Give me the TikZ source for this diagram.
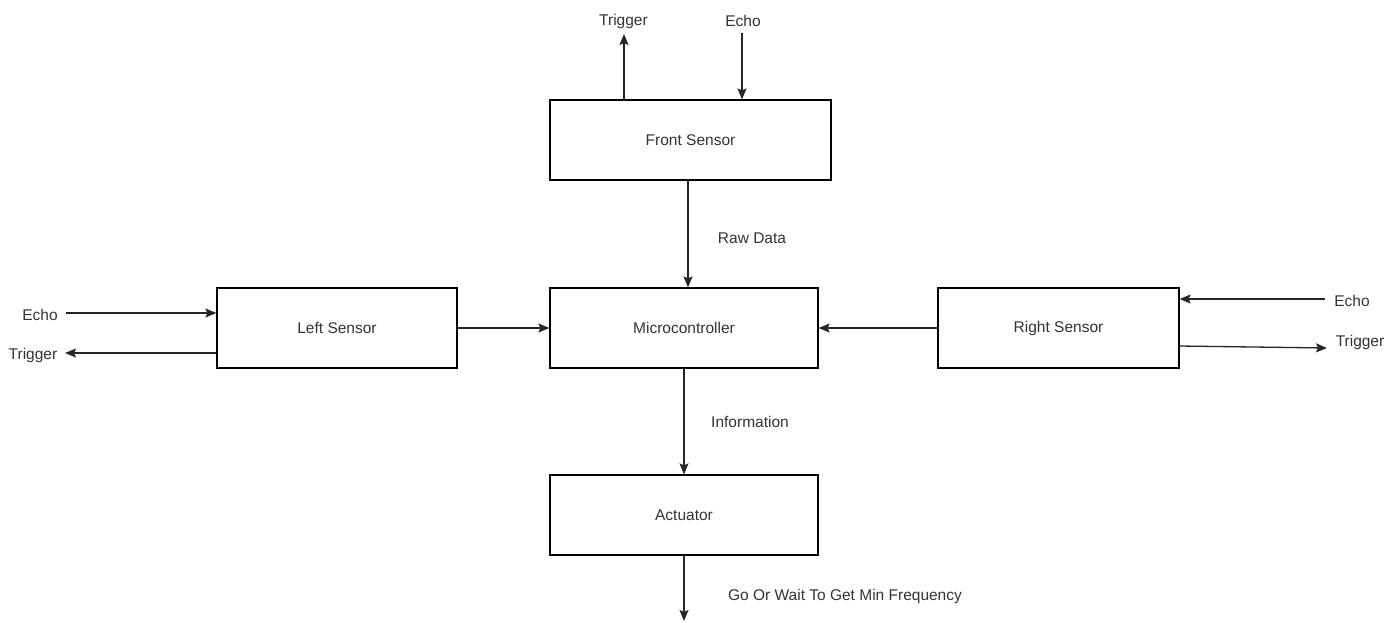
\documentclass[tikz,border=0pt]{standalone}
\usepackage{fontspec}
\setmainfont{Liberation Sans}
\usetikzlibrary{arrows.meta}
\begin{document}
\begin{tikzpicture}[x=1pt,y=-1pt,
  blk/.style={draw=black,line width=1.2pt,minimum width=#1,minimum height=80pt,inner sep=0pt,font=\fontsize{15.5}{18}\selectfont,text=black!80},
  blk/.default=268pt,
  lbl/.style={inner sep=0pt,font=\fontsize{15.5}{18}\selectfont,text=black!80},
  conn/.style={draw=black!85,line width=1.3pt,-{Stealth[length=11pt,width=9pt,inset=2pt]}}]
\useasboundingbox (0,0) rectangle (1400,622);
% boxes
\node[blk=281pt] (front) at (690.5,140) {Front Sensor};
\node[blk=240pt] (left) at (337,328) {Left Sensor};
\node[blk] (micro) at (684,328) {Microcontroller};
\node[blk=241pt] (right) at (1058.5,328) {Right Sensor};
\node[blk] (act) at (684,515) {Actuator};
% front sensor I/O
\coordinate (ftrig) at (624,34);
\coordinate (fecho) at (742,33);
\node[lbl] (ftrigl) at (623.5,21) {Trigger};
\node[lbl] (fechol) at (743,21) {Echo};
\draw[conn] (front.north -| ftrig) -- (ftrig);
\draw[conn] (fecho) -- (front.north -| fecho);
% front -> micro
\coordinate (fm) at (688,0);
\draw[conn] (front.south -| fm) -- (micro.north -| fm);
\node[lbl] (raw) at (752,238) {Raw Data};
% left sensor I/O
\coordinate (lecho) at (66,313);
\coordinate (ltrig) at (65,353);
\node[lbl] (lechol) at (40,315) {Echo};
\node[lbl] (ltrigl) at (33,355) {Trigger};
\draw[conn] (lecho) -- (left.west |- lecho);
\draw[conn] (left.west |- ltrig) -- (ltrig);
\draw[conn] (left) -- (micro);
\draw[conn] (right) -- (micro);
% right sensor I/O
\coordinate (recho) at (1325,299);
\coordinate (rtrig) at (1327,348);
\node[lbl] (rechol) at (1352,301) {Echo};
\node[lbl] (rtrigl) at (1360,342) {Trigger};
\draw[conn] (recho) -- (right.east |- recho);
\draw[conn] (right.east |- 0,346) -- (rtrig);
% micro -> actuator
\draw[conn] (micro) -- (act);
\node[lbl] (info) at (750,422) {Information};
% actuator out
\coordinate (aout) at (684,621);
\draw[conn] (act) -- (aout);
\node[lbl] (go) at (845,596) {Go Or Wait To Get Min Frequency};
\end{tikzpicture}
\end{document}
